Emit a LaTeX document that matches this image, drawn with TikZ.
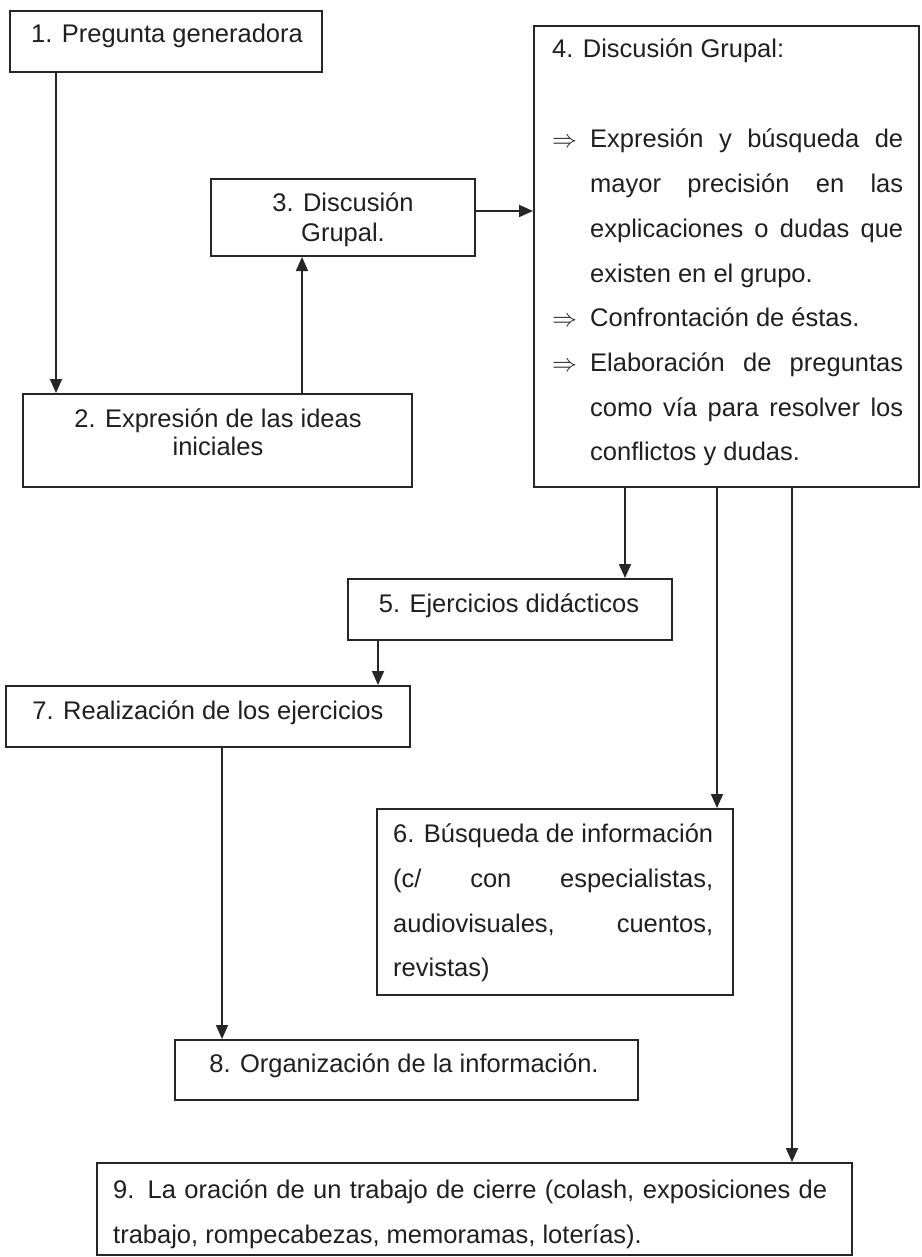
\documentclass[tikz,border=0pt]{standalone}
\usepackage{fontspec}
\setmainfont{Liberation Sans}
\usetikzlibrary{arrows.meta}
\tikzset{
  box/.style={draw=black!85, line width=2pt, rectangle, inner sep=0pt, fill=none},
  txt/.style={inner sep=0pt, text=black!88, font=\fontsize{25.5}{30}\selectfont, anchor=base},
  txtl/.style={txt, anchor=base west},
  arr/.style={draw=black!85, line width=1.8pt, -{Triangle[width=12pt,length=14pt]}},
}
\begin{document}
\begin{tikzpicture}[x=1pt,y=-1pt]
\useasboundingbox[fill=white] (0,0) rectangle (921,1257);

% boxes
\node[box, minimum width=312pt, minimum height=61pt] (b1) at (166,41.5) {};
\node[box, minimum width=389pt, minimum height=93pt] (b2) at (217.5,440.5) {};
\node[box, minimum width=264pt, minimum height=77pt] (b3) at (343,217.5) {};
\node[box, minimum width=385pt, minimum height=461pt] (b4) at (726.5,256.5) {};
\node[box, minimum width=324pt, minimum height=61pt] (b5) at (510,609.5) {};
\node[box, minimum width=404pt, minimum height=61pt] (b7) at (208,716.5) {};
\node[box, minimum width=356pt, minimum height=186pt] (b6) at (555,902) {};
\node[box, minimum width=463pt, minimum height=60pt] (b8) at (406.5,1070) {};
\node[box, minimum width=755pt, minimum height=92pt] (b9) at (474.5,1209) {};

% texts
\node[txt] (t1) at (167,43) {1. Pregunta generadora};
\node[txt] (t2a) at (218,427) {2. Expresión de las ideas};
\node[txt] (t2b) at (218,455) {iniciales};
\node[txt] (t3a) at (343,212) {3. Discusión};
\node[txt] (t3b) at (343,241) {Grupal.};

\node[txtl] (t4) at (552,58) {4. Discusión Grupal:};
\node[txtl] (r1) at (552,148) {$\Rightarrow$};
\node[txtl] (r2) at (552,326.8) {$\Rightarrow$};
\node[txtl] (r3) at (552,371.5) {$\Rightarrow$};
\node[txtl] (t4a) at (590,148) {\makebox[313pt][s]{Expresión y búsqueda de}};
\node[txtl] (t4b) at (590,192.7) {\makebox[313pt][s]{mayor precisión en las}};
\node[txtl] (t4c) at (590,237.4) {\makebox[313pt][s]{explicaciones o dudas que}};
\node[txtl] (t4d) at (590,282.1) {existen en el grupo.};
\node[txtl] (t4e) at (590,326.8) {Confrontación de éstas.};
\node[txtl] (t4f) at (590,371.5) {\makebox[313pt][s]{Elaboración de preguntas}};
\node[txtl] (t4g) at (590,416.2) {\makebox[313pt][s]{como vía para resolver los}};
\node[txtl] (t4h) at (590,460.9) {conflictos y dudas.};

\node[txt] (t5) at (509,612) {5. Ejercicios didácticos};
\node[txt] (t7) at (208,719) {7. Realización de los ejercicios};

\node[txtl] (t6a) at (393,842) {\makebox[320pt][s]{6. Búsqueda de información}};
\node[txtl] (t6b) at (393,887) {\makebox[320pt][s]{(c/ con especialistas,}};
\node[txtl] (t6c) at (393,932) {\makebox[320pt][s]{audiovisuales, cuentos,}};
\node[txtl] (t6d) at (393,976) {revistas)};

\node[txt] (t8) at (404,1072) {8. Organización de la información.};

\node[txtl] (t9a) at (113,1198) {\makebox[714pt][s]{9. La oración de un trabajo de cierre (colash, exposiciones de}};
\node[txtl] (t9b) at (113,1243) {trabajo, rompecabezas, memoramas, loterías).};

% connectors
\draw[arr] ([xshift=47pt]b1.south west) coordinate (a12) -- (a12 |- b2.north);
\draw[arr] ([xshift=280pt]b2.north west) coordinate (a23) -- (a23 |- b3.south);
\draw[arr] ([yshift=6.5pt]b3.east) coordinate (a34) -- (a34 -| b4.west);
\draw[arr] ([xshift=92pt]b4.south west) coordinate (a45) -- (a45 |- b5.north);
\draw[arr] ([xshift=184pt]b4.south west) coordinate (a46) -- (a46 |- b6.north);
\draw[arr] ([xshift=259pt]b4.south west) coordinate (a49) -- (a49 |- b9.north);
\draw[arr] ([xshift=31pt]b5.south west) coordinate (a57) -- (a57 |- b7.north);
\draw[arr] ([xshift=217pt]b7.south west) coordinate (a78) -- (a78 |- b8.north);
\end{tikzpicture}
\end{document}
